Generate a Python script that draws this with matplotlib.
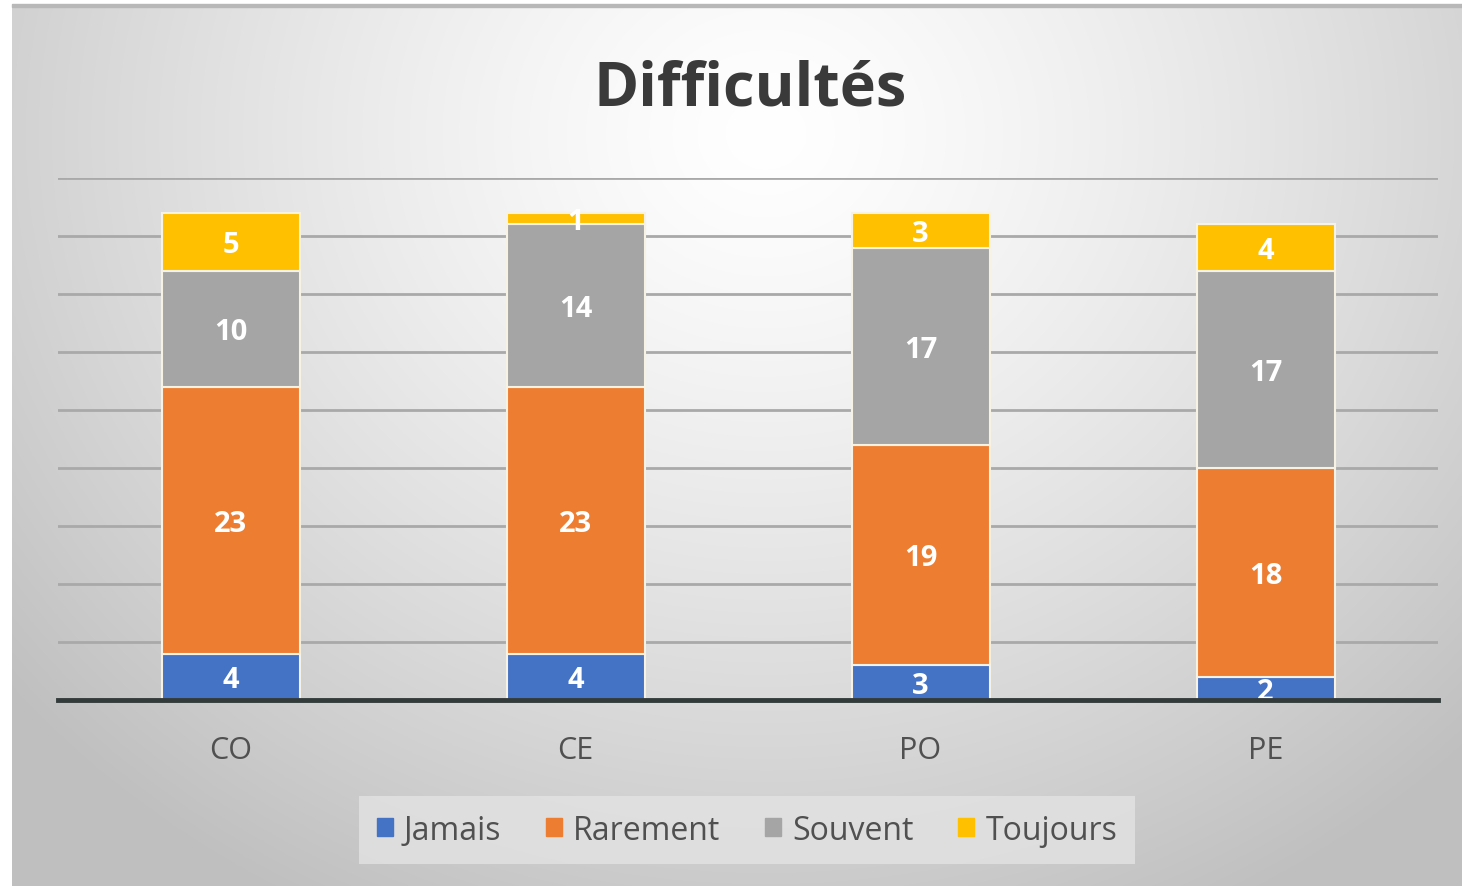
import numpy as np
import matplotlib
matplotlib.use('Agg')
from matplotlib import pyplot as plt
from matplotlib import patches as mpatches

categories = ['CO', 'CE', 'PO', 'PE']
series_names = ['Jamais', 'Rarement', 'Souvent', 'Toujours']
jamais = [4, 4, 3, 2]
rarement = [23, 23, 19, 18]
souvent = [10, 14, 17, 17]
toujours = [5, 1, 3, 4]
colors = ['#4472C4', '#ED7D31', '#A5A5A5', '#FFC000']

plt.rcParams['font.family'] = ['Open Sans', 'DejaVu Sans']

W, H = 1462, 887
fig = plt.figure(figsize=(W / 100, H / 100), dpi=100)
fig.patch.set_facecolor('white')

# radial grey background of the chart area
bg = fig.add_axes([0, 0, 1, 1])
bg.set_xlim(0, W)
bg.set_ylim(H, 0)
bg.axis('off')
yy, xx = np.mgrid[0:H, 0:W]
r = np.sqrt(((xx - 760) / 900.0) ** 2 + ((yy - 130) / 800.0) ** 2)
val = 1.0 - 0.22 * np.clip(r, 0, 1.1) ** 1.3
img = np.dstack([val, val, val])
bg.imshow(img, extent=(12, W, H, 5), aspect='auto', zorder=0)
bg.add_patch(mpatches.Rectangle((12, 5), W - 12, 3, color='#b8b8b8', zorder=1))

ax = fig.add_axes([58 / W, 1 - 701 / H, 1380 / W, 522 / H])
ax.set_facecolor('none')

x = np.arange(len(categories))
data = [jamais, rarement, souvent, toujours]
bottom = np.zeros(len(categories))
for name, vals, c in zip(series_names, data, colors):
    vals = np.array(vals)
    ax.bar(x, vals, 0.4, bottom=bottom, color=c, edgecolor='#f7f2e4',
           linewidth=1.5, label=name, zorder=3)
    for xi, b, v in zip(x, bottom, vals):
        ax.text(xi, b + v / 2 - 0.25, str(v), ha='center', va='center', color='white',
                fontsize=21, fontweight='bold', zorder=4)
    bottom += vals

ax.set_xlim(-0.5, 3.5)
ax.set_ylim(0, 45)
ax.set_yticks(np.arange(5, 46, 5))
ax.yaxis.grid(True, color='#a9a9a9', linewidth=2, zorder=0)
ax.set_axisbelow(True)
ax.tick_params(axis='y', left=False, labelleft=False)
ax.tick_params(axis='x', bottom=False, pad=22, labelsize=22, labelcolor='#505050')
ax.set_xticks(x)
ax.set_xticklabels(categories)
for s in ['top', 'right', 'left']:
    ax.spines[s].set_visible(False)
ax.spines['bottom'].set_color('#333a3a')
ax.spines['bottom'].set_linewidth(3.5)
ax.spines['bottom'].set_zorder(5)

fig.text(0.513, 0.898, 'Difficultés', ha='center', va='center', fontsize=44,
         fontweight='bold', color='#3a3a3a')

handles = [mpatches.Patch(color=c, label=n) for n, c in zip(series_names, colors)]
leg = fig.legend(handles=handles, loc='center', bbox_to_anchor=(0.511, 0.063),
                 ncol=4, frameon=True, fontsize=23, handlelength=0.5,
                 handleheight=0.5, handletextpad=0.35, columnspacing=1.4,
                 borderpad=0.55, borderaxespad=0, fancybox=False)
leg.get_frame().set_facecolor('#e3e3e3')
leg.get_frame().set_edgecolor('none')
for t in leg.get_texts():
    t.set_color('#505050')

plt.savefig('out.png', dpi=100)
